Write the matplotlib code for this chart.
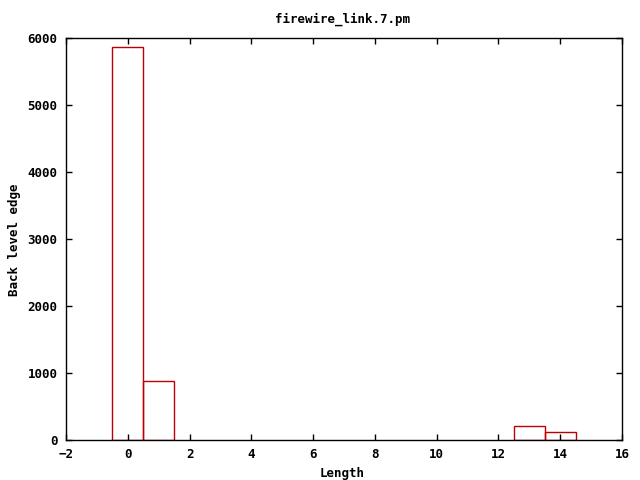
import numpy as np
import matplotlib
matplotlib.use("Agg")
import matplotlib.pyplot as plt

# histogram bins (centre) and counts
lengths = [0, 1, 13, 14]
counts = [5866, 881, 213, 119]

x_ticks = [-2, 0, 2, 4, 6, 8, 10, 12, 14, 16]
y_ticks = [0, 1000, 2000, 3000, 4000, 5000, 6000]

plt.rcParams['font.family'] = 'DejaVu Sans Mono'
plt.rcParams['font.weight'] = 'bold'
plt.rcParams['font.size'] = 9

fig = plt.figure(figsize=(6.4, 4.8), dpi=100)
ax = fig.add_axes([66/640, 40/480, (622-66)/640, (440-38)/480])

ax.bar(lengths, counts, width=1.0, fill=False, edgecolor='#c00000', linewidth=1.0)

ax.set_xlim(-2, 16)
ax.set_ylim(0, 6000)
ax.set_xticks(x_ticks)
ax.set_yticks(y_ticks)
ax.tick_params(direction='in', top=True, right=True, length=4, width=1,
               labelsize=9, pad=6)
for lab in ax.get_xticklabels() + ax.get_yticklabels():
    lab.set_fontweight('bold')
for s in ax.spines.values():
    s.set_linewidth(1)

# labels placed in figure pixels like gnuplot does
fig.text(342/640, 1 - 473/480, 'Length', ha='center', va='center',
         fontweight='bold', fontsize=9)
fig.text(15/640, 1 - 240/480, 'Back level edge', ha='center', va='center',
         rotation=90, fontweight='bold', fontsize=9)
fig.text(342/640, 1 - 19/480, 'firewire_link.7.pm', ha='center', va='center',
         fontweight='bold', fontsize=9)

fig.savefig('out.png', dpi=100)
